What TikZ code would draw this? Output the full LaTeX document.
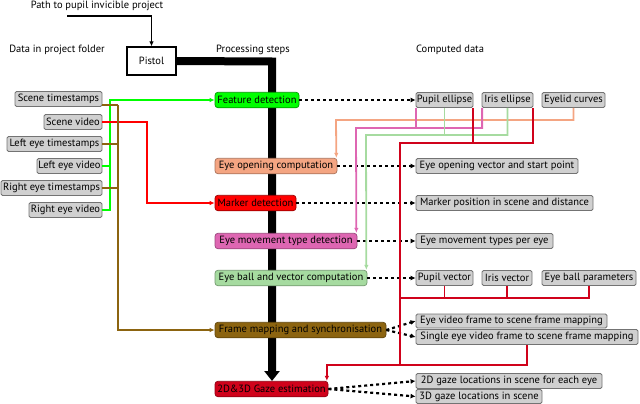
\documentclass[tikz,border=0pt]{standalone}
\usepackage{fontspec}
\setmainfont{PT Sans}
\usetikzlibrary{arrows.meta,calc}
\definecolor{cgreen}{HTML}{00FF00}
\definecolor{csalmon}{HTML}{F4A582}
\definecolor{cred}{HTML}{FF0000}
\definecolor{cpink}{HTML}{DE66B2}
\definecolor{clgreen}{HTML}{A6DBA0}
\definecolor{cbrown}{HTML}{8C6410}
\definecolor{ccrimson}{HTML}{D0021B}
\definecolor{cgray}{HTML}{D0D0D0}
\begin{document}
\begin{tikzpicture}[x=1pt,y=-1pt,
  every node/.style={font=\fontsize{10.5}{12}\selectfont, inner sep=0pt},
  gbox/.style={draw=black!55, fill=cgray, rounded corners=1.5pt, line width=0.8pt, minimum height=15pt},
  pbox/.style={rounded corners=3pt, line width=0.7pt, minimum height=15.5pt},
  lbl/.style={},
  tipc/.style={-{Latex[length=5pt,width=4.5pt]}},
  gline/.style={cgreen, line width=1.8pt},
  rline/.style={cred, line width=1.8pt},
  bline/.style={cbrown, line width=1.8pt},
  oline/.style={csalmon, line width=1.8pt},
  pline/.style={cpink, line width=1.8pt},
  lgline/.style={clgreen, line width=1.8pt},
  cline/.style={ccrimson, line width=1.8pt},
  dline/.style={black, line width=2.2pt, dash pattern=on 3pt off 3pt, -{Latex[length=5pt,width=5pt]}}
]
\useasboundingbox (0,0) rectangle (640,404);

% headings
\node[lbl] (title) at (97,6) {Path to pupil invicible project};
\node[lbl] (hdata) at (57,50) {Data in project folder};
\node[lbl] (hproc) at (253,50) {Processing steps};
\node[lbl] (hcomp) at (450,50) {Computed data};

% pistol
\node[draw=black, line width=1.2pt, fill=white, minimum width=49pt, minimum height=28pt] (pistol) at (151.5,61) {Pistol};
\coordinate (pathstart) at (67,16);
\draw[black, line width=1.4pt, -{Latex[length=5pt,width=4.5pt]}] (pathstart) -| (pistol.north);

% thick backbone
\coordinate (bend) at (272,61.5);
\coordinate (btip) at (272,381);
\draw[black, line width=8pt, -{Triangle[length=10pt,width=15pt]}] (pistol.east) -- (bend) -- (btip);

% input boxes
\node[gbox, minimum width=87pt] (sts) at (58.5,99) {Scene timestamps};
\node[gbox, minimum width=58pt] (sv) at (73,122) {Scene video};
\node[gbox, minimum width=95pt] (lts) at (54.5,144) {Left eye timestamps};
\node[gbox, minimum width=65pt] (lv) at (69.5,166) {Left eye video};
\node[gbox, minimum width=101pt] (rts) at (51.5,188) {Right eye timestamps};
\node[gbox, minimum width=73pt] (rv) at (65.5,210) {Right eye video};

% process boxes
\node[pbox, draw=green!60!black, fill=cgreen, minimum width=84pt] (fd) at (257,100) {Feature detection};
\node[pbox, draw=csalmon!70!black, fill=csalmon, minimum width=122pt] (eo) at (276,166) {Eye opening computation};
\node[pbox, draw=red!60!black, fill=cred, minimum width=81pt] (md) at (255.5,203) {Marker detection};
\node[pbox, draw=cpink!70!black, fill=cpink, minimum width=142pt] (em) at (286,241) {Eye movement type detection};
\node[pbox, draw=clgreen!70!black, fill=clgreen, minimum width=152pt] (eb) at (291,278) {Eye ball and vector computation};
\node[pbox, draw=cbrown!70!black, fill=cbrown, minimum width=171pt] (fm) at (300.5,330) {Frame mapping and synchronisation};
\node[pbox, draw=ccrimson!70!black, fill=ccrimson, minimum width=113pt] (ge) at (271.5,389) {2D\&3D Gaze estimation};

% output boxes
\node[gbox, minimum width=57pt] (pe) at (444.5,100) {Pupil ellipse};
\node[gbox, minimum width=51pt] (ie) at (507.5,100) {Iris ellipse};
\node[gbox, minimum width=63pt] (ec) at (573.5,100) {Eyelid curves};
\node[gbox, minimum width=162pt] (eov) at (497,166) {Eye opening vector and start point};
\node[gbox, minimum width=177pt] (mp) at (504.5,203) {Marker position in scene and distance};
\node[gbox, minimum width=137pt] (emt) at (484.5,241) {Eye movement types per eye};
\node[gbox, minimum width=57pt] (pv) at (444.5,278) {Pupil vector};
\node[gbox, minimum width=50pt] (iv) at (507,278) {Iris vector};
\node[gbox, minimum width=94pt] (ebp) at (589,278) {Eye ball parameters};
\node[gbox, minimum width=191pt, minimum height=14pt] (evf) at (511.5,321) {Eye video frame to scene frame mapping};
\node[gbox, minimum width=222pt] (sef) at (527,337) {Single eye video frame to scene frame mapping};
\node[gbox, minimum width=186pt] (g2) at (509,381) {2D gaze locations in scene for each eye};
\node[gbox, minimum width=126pt, minimum height=14pt] (g3) at (479,396.5) {3D gaze locations in scene};

% input connectors
\coordinate (gx) at (110,100);
\draw[gline, tipc] (rv.east) -| (gx) -- (fd.west);
\draw[gline] (lv.east) -- (lv.east -| gx);
\coordinate (rx) at (147,122);
\draw[rline, tipc] (sv.east) -- (rx) |- (md.west);
\coordinate (bx) at (118,105);
\draw[bline] ($(sts.east)+(0,6)$) -- (bx);
\draw[bline, tipc] (bx) |- (fm.west);
\draw[bline] (lts.east) -- (lts.east -| bx);
\draw[bline] (rts.east) -- (rts.east -| bx);

% dashed result arrows
\draw[dline] (fd.east) -- (pe.west);
\draw[dline] (eo.east) -- (eov.west);
\draw[dline] (md.east) -- (mp.west);
\draw[dline] (em.east) -- (emt.west);
\draw[dline] (eb.east) -- (pv.west);
\draw[dline] (fm.east) -- (evf.west);
\draw[dline] (fm.east) -- (sef.west);
\draw[dline] (ge.east) -- (g2.west);
\draw[dline] (ge.east) -- (g3.west);

% feedback: eyelid curves -> eye opening
\coordinate (oc) at (336,120);
\draw[oline, tipc] (ec.south) |- (oc) -- ($(eo.north east)+(-1,0)$);
% pink -> eye movement
\coordinate (pc) at (356,128);
\draw[pline] ($(pe.south west)+(0.5,0)$) -- ($(pe.south west)+(0.5,21)$);
\draw[pline, tipc] ($(ie.south west)+(0.5,0)$) |- (pc) -- ($(em.north east)+(-1,0)$);
% light green -> eye ball
\coordinate (lc) at (366,135);
\draw[lgline] (pe.south) -- ($(pe.south)+(0,28)$);
\draw[lgline, tipc] (ie.south) |- (lc) -- ($(eb.north east)+(-1,0)$);
% crimson -> gaze estimation
\coordinate (ca) at (400,143);
\coordinate (cb) at (400,365);
\coordinate (cm) at (400,298);
\draw[cline] ($(pe.south east)+(-0.5,0)$) -- ($(pe.south east)+(-0.5,36)$);
\draw[cline] ($(ie.south east)+(-0.5,0)$) |- (ca) -- (cb);
\draw[cline] (pv.south) -- (pv.south |- cm);
\draw[cline] (iv.south) -- (iv.south |- cm);
\draw[cline] (ebp.south) |- (cm);
\draw[cline] (sef.south) |- (cb);
\draw[cline, tipc] (cb) -| ($(ge.north east)+(-1.5,0)$);
\end{tikzpicture}
\end{document}
